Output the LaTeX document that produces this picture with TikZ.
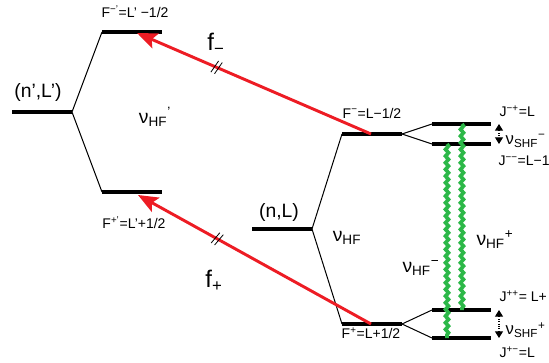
\documentclass[tikz,border=0pt]{standalone}
\usepackage{fontspec}
\setmainfont{Liberation Sans}
\usetikzlibrary{arrows.meta,decorations.pathmorphing,decorations.markings}
\definecolor{laserred}{RGB}{237,28,36}
\definecolor{wavegreen}{RGB}{44,184,72}
\newcommand{\bigtxt}{\fontsize{14.5}{16}\selectfont}
\newcommand{\midtxt}{\fontsize{12.5}{14}\selectfont}
\newcommand{\hugetxt}{\fontsize{18}{20}\selectfont}
\newcommand{\smalltxt}{\fontsize{10.5}{12}\selectfont}
\newcommand{\drawlevel}[4]
{\coordinate (#1l) at (#2,#4);
\coordinate (#1r) at (#3,#4);
\draw[level] (#1l) -- (#1r);
}
\tikzset{
	level/.style={line width=3pt},
	split/.style={line width=.75pt},
	laser/.style={laserred,line width=2.2pt,-{Stealth[length=15pt,width=12pt,inset=3pt]},
		postaction={decorate},
		decoration={markings,mark=at position .66 with {\draw[-,black,line width=.6pt] (-2.5pt,-5pt)--(-.5pt,5pt) (.5pt,-5pt)--(2.5pt,5pt);}}},
	wave/.style={wavegreen,line width=2.8pt,decorate,decoration={snake,amplitude=1.1pt,segment length=5pt}},
	gap/.style={densely dotted,line width=.8pt,{Triangle[length=5pt,width=6pt]}-{Triangle[length=5pt,width=6pt]}},
}

\begin{document}
\begin{tikzpicture}[x={(.75pt,0)},y={(0,-.75pt)}]
	\useasboundingbox (0,0) rectangle (549,363);
	\drawlevel{np}{12}{72}{112};
	\drawlevel{Fmp}{102}{162}{32};
	\drawlevel{Fpp}{102}{162}{192};
	\drawlevel{nl}{252}{312}{229};
	\drawlevel{Fm}{342}{402}{134};
	\drawlevel{Fp}{342}{402}{324};
	\foreach \j/\y in {Jmp/124,Jmm/144,Jpp/310,Jpm/338}
		{\drawlevel{\j}{432}{491}{\y};
		};
	\foreach \a/\b in {np/Fmp,np/Fpp,nl/Fm,nl/Fp,Fm/Jmp,Fm/Jmm,Fp/Jpp,Fp/Jpm}
		{\draw[split] (\a r) -- (\b l);
		};
	\coordinate (fmfrom) at (371,134);
	\coordinate (fmto) at (137,33);
	\coordinate (fpfrom) at (371,324);
	\coordinate (fpto) at (138,195);
	\draw[laser] (fmfrom) -- (fmto);
	\draw[laser] (fpfrom) -- (fpto);
	\coordinate (wa1) at (462,124);
	\coordinate (wa2) at (462,310);
	\coordinate (wb1) at (447,144);
	\coordinate (wb2) at (447,338);
	\draw[wave] (wa1) -- (wa2);
	\draw[wave] (wb1) -- (wb2);
	\coordinate (gm1) at (499,124);
	\coordinate (gm2) at (499,144);
	\coordinate (gp1) at (499,310);
	\coordinate (gp2) at (499,338);
	\draw[gap] (gm1) -- (gm2);
	\draw[gap] (gp1) -- (gp2);
	\node (labnp) at (38,92) {\bigtxt (n',L')};
	\node (labFmp) at (135,12) {\smalltxt F\textsuperscript{−'}=L' −1/2};
	\node (labFpp) at (134,223) {\smalltxt F\textsuperscript{+'}=L'+1/2};
	\node (labhfp) at (155,117) {\bigtxt ν\textsubscript{HF}\textsuperscript{'}};
	\node (labfm) at (216,44) {\hugetxt f\textsubscript{−}};
	\node (labfp) at (214,281) {\hugetxt f\textsubscript{+}};
	\node (labnl) at (279,212) {\bigtxt (n,L)};
	\node (labhf) at (347,238) {\bigtxt ν\textsubscript{HF}};
	\node (labFm) at (372,113) {\smalltxt F\textsuperscript{−}=L−1/2};
	\node (labFp) at (371,333) {\smalltxt F\textsuperscript{+}=L+1/2};
	\node (labhfm) at (421,268) {\bigtxt ν\textsubscript{HF}\textsuperscript{−}};
	\node (labhfpl) at (495,240) {\bigtxt ν\textsubscript{HF}\textsuperscript{+}};
	\node[anchor=west] (labJmp) at (495,111) {\smalltxt J\textsuperscript{−+}=L};
	\node[anchor=west] (labshfm) at (501,141) {\midtxt ν\textsubscript{SHF}\textsuperscript{−}};
	\node[anchor=west,inner xsep=1pt] (labJmm) at (497,161) {\smalltxt J\textsuperscript{−−}=L−1};
	\node[anchor=west] (labJpp) at (495,296) {\smalltxt J\textsuperscript{++}= L+};
	\node[anchor=west] (labshfp) at (501,330) {\midtxt ν\textsubscript{SHF}\textsuperscript{+}};
	\node[anchor=west] (labJpm) at (495,352) {\smalltxt J\textsuperscript{+−}=L};
\end{tikzpicture}
\end{document}
